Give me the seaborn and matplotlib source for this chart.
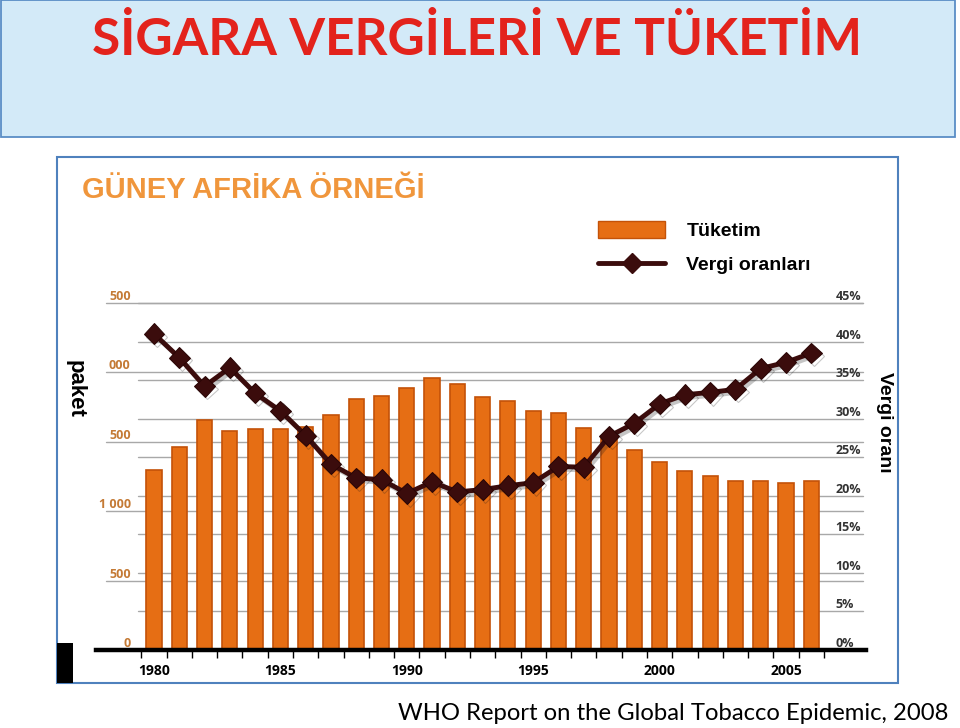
import matplotlib
matplotlib.use('Agg')
import matplotlib.pyplot as plt
import seaborn as sns
from matplotlib.patches import Rectangle, Patch
from matplotlib.lines import Line2D
import matplotlib.patheffects as pe

# ---------------- data ----------------
years = list(range(1980, 2007))
consumption = [1297, 1463, 1655, 1578, 1592, 1592, 1607, 1693, 1808, 1830,
               1888, 1960, 1916, 1823, 1794, 1722, 1708, 1599, 1520, 1441,
               1354, 1290, 1254, 1218, 1218, 1203, 1218]
tax_rate = [41.0, 37.9, 34.2, 36.6, 33.3, 31.0, 27.8, 24.1, 22.3, 22.1,
            20.3, 21.8, 20.5, 20.8, 21.3, 21.7, 23.8, 23.7, 27.7, 29.4,
            31.9, 33.1, 33.4, 33.8, 36.5, 37.3, 38.5]
left_ticks = [0, 500, 1000, 1500, 2000, 2500]
left_tick_labels = ['0', '500', '1 000', '500', '000', '500']
right_ticks = [0, 5, 10, 15, 20, 25, 30, 35, 40, 45]
right_tick_labels = ['0%', '5%', '10%', '15%', '20%', '25%', '30%', '35%', '40%', '45%']
label_years = [1980, 1985, 1990, 1995, 2000, 2005]
label_year_text = ['1980', '1985', '1990', '1995', '2000', '2005']

title = 'SİGARA VERGİLERİ VE TÜKETİM'
subtitle = 'GÜNEY AFRİKA ÖRNEĞİ'
legend_labels = ['Tüketim', 'Vergi oranları']
left_label = 'paket'
right_label = 'Vergi oranı'
source = 'WHO Report on the Global Tobacco Epidemic, 2008'

# ---------------- style ----------------
sns.set_theme(style='white')
plt.rcParams['font.family'] = ['Liberation Sans', 'DejaVu Sans']
plt.rcParams['text.color'] = 'black'

BAR = '#e66e14'
BAR_EDGE = '#c45208'
LINE = '#3b0c0c'
W, H = 960, 728

fig = plt.figure(figsize=(9.6, 7.28), dpi=100)
fig.patch.set_facecolor('white')

def fx(px):
    return px / W

def fy(py):
    return 1 - py / H

# banner
fig.patches.append(Rectangle((fx(1), fy(137)), fx(954), 137 / H,
                             transform=fig.transFigure, facecolor='#d3eaf8',
                             edgecolor='#5a8dc6', lw=1.3, zorder=-3))
fig.text(fx(477), fy(40), title, ha='center', va='center', fontsize=37,
         fontweight='bold', color='#e3231c', family=['Lato', 'DejaVu Sans'])

# chart frame
fig.patches.append(Rectangle((fx(57), fy(683)), fx(841), 526 / H,
                             transform=fig.transFigure, facecolor='white',
                             edgecolor='#4f81bd', lw=1.5, zorder=-3))
fig.patches.append(Rectangle((fx(57), fy(683)), fx(16), 40 / H,
                             transform=fig.transFigure, facecolor='black',
                             edgecolor='none', zorder=-2))

fig.text(fx(82), fy(190), subtitle, ha='left', va='center', fontsize=21,
         fontweight='bold', color='#f0963c')

# axes
ymax = 2540
ax = fig.add_axes([fx(96), fy(650), fx(770), (650 - 297.4) / H])
ax.set_facecolor('none')
ax.set_zorder(2)

sns.barplot(x=years, y=consumption, native_scale=True, width=0.6,
            color=BAR, saturation=1, ax=ax, zorder=3,
            edgecolor=BAR_EDGE, linewidth=1.2)

for v in left_ticks[1:]:
    ax.axhline(v, xmin=0.013, xmax=0.996, color='#a8a8a8', lw=1, zorder=1)
for p in right_ticks[1:]:
    ax.axhline(p * 2500 / 45, xmin=0.055, xmax=0.996, color='#a8a8a8', lw=1, zorder=1)

ax.set_xlim(1977.706, 2008.165)
ax.set_ylim(0, ymax)
for s in ['left', 'right', 'top']:
    ax.spines[s].set_visible(False)
ax.spines['bottom'].set_color('black')
ax.spines['bottom'].set_linewidth(3.2)
ax.spines['bottom'].set_zorder(4)

ax.set_xticks(label_years)
ax.set_xticklabels(label_year_text)
ax.set_xticks([y - 0.5 for y in years + [2007]], minor=True)
ax.tick_params(axis='x', which='major', length=0, pad=10, labelsize=10,
               labelcolor='black')
ax.tick_params(axis='x', which='minor', length=6, width=1, color='black',
               direction='out', bottom=True)
ax.set_yticks(left_ticks)
ax.set_yticklabels(left_tick_labels)
ax.tick_params(axis='y', length=0, pad=-25, labelsize=9, labelcolor='#c47a35')
ax.set_xlabel('')
ax.set_ylabel('')

ax2 = ax.twinx()
ax2.set_zorder(3)
sns.lineplot(x=years, y=tax_rate, ax=ax2, color=LINE, lw=3.5, marker='D',
             markersize=10.5, markeredgecolor='#2a0505', zorder=5,
             path_effects=[pe.SimpleLineShadow(offset=(2, -2), alpha=0.25),
                           pe.Normal()])
ax2.set_ylim(0, 45 * ymax / 2500)
for s in ['left', 'right', 'top', 'bottom']:
    ax2.spines[s].set_visible(False)
ax2.set_yticks(right_ticks)
ax2.set_yticklabels(right_tick_labels)
ax2.tick_params(axis='y', length=0, pad=-22, labelsize=9, labelcolor='#333333')
ax2.set_ylabel('')
ax2.grid(False)
ax.grid(False)

for lab in ax.get_xticklabels():
    lab.set_fontweight('bold')
    lab.set_family(['Open Sans', 'DejaVu Sans'])
for lab in ax.get_yticklabels():
    lab.set_va('bottom')
    lab.set_fontweight('bold')
    lab.set_family(['Open Sans', 'DejaVu Sans'])
for lab in ax2.get_yticklabels():
    lab.set_va('bottom')
    lab.set_fontweight('bold')
    lab.set_family(['Open Sans', 'DejaVu Sans'])

# legend
handles = [Patch(facecolor=BAR, edgecolor=BAR_EDGE, label=legend_labels[0]),
           Line2D([], [], color=LINE, lw=3.5, marker='D', markersize=10,
                  label=legend_labels[1])]
fig.legend(handles=handles, loc='upper left',
           bbox_to_anchor=(fx(598), fy(221)), frameon=False,
           prop={'family': 'Liberation Sans', 'weight': 'bold', 'size': 14},
           labelcolor='black',
           handlelength=3.45, handleheight=1, handletextpad=1.1,
           labelspacing=0.75, borderpad=0, borderaxespad=0)

fig.text(fx(75), fy(389), left_label, rotation=-90, ha='center', va='center',
         fontsize=16, fontweight='bold', color='black')
fig.text(fx(885), fy(422), right_label, rotation=-90, ha='center', va='center',
         fontsize=14, fontweight='bold', color='black')

fig.text(fx(948), fy(713), source, ha='right', va='center', fontsize=17.2,
         color='black', family=['Lato', 'DejaVu Sans'])

fig.savefig('out.png', dpi=100)
